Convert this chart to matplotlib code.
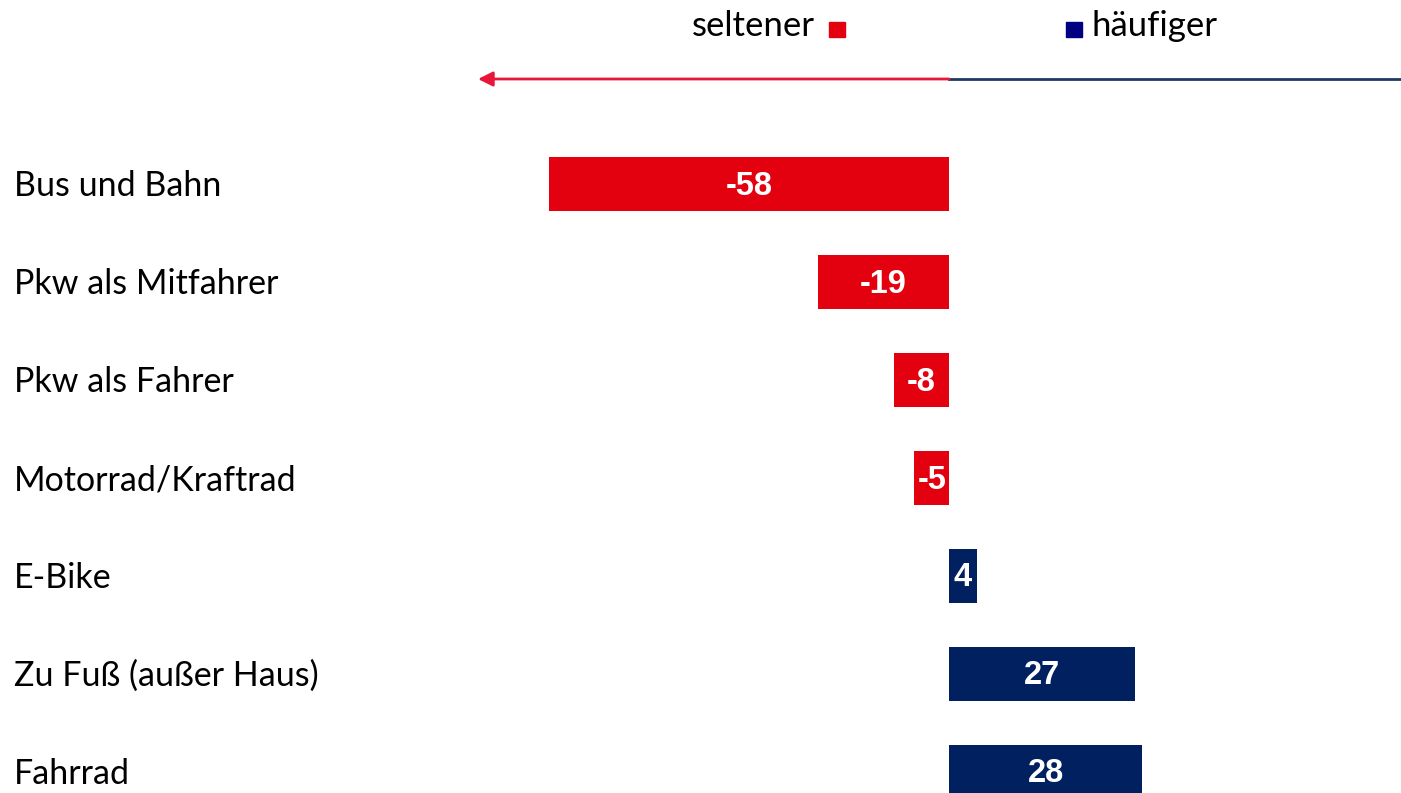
import matplotlib.pyplot as plt

categories = ["Bus und Bahn", "Pkw als Mitfahrer", "Pkw als Fahrer", "Motorrad/Kraftrad",
              "E-Bike", "Zu Fuß (außer Haus)", "Fahrrad"]
values = [-58, -19, -8, -5, 4, 27, 28]
legend_left = "seltener"
legend_right = "häufiger"

red = "#E3000F"
navy = "#002060"

W, H = 1401, 793
fig = plt.figure(figsize=(W / 100, H / 100), dpi=100)

# pixel layout: zero line at x=949, 6.9 px per unit, rows every 98 px starting at y=184
x0, sx = 949, 6.9
y0, sy = 184, 98
ax = fig.add_axes([0, 0, 1, 1])
ax.set_xlim(-x0 / sx, (W - x0) / sx)
ax.set_ylim((H - y0) / sy, -y0 / sy)
ax.axis("off")

pos = list(range(len(categories)))
colors = [red if v < 0 else navy for v in values]
ax.barh(pos, values, height=0.56, color=colors)

for p, v in zip(pos, values):
    ax.text(v / 2, p + 2 / sy, str(v), ha="center", va="center", color="white",
            fontsize=23.5, fontweight="bold", family="Liberation Sans")

for p, c in zip(pos, categories):
    ax.text(14 / W, 1 - (y0 + 2 + p * sy) / H, c, transform=ax.transAxes, ha="left",
            va="center", fontsize=24.5, family="Lato")

# direction arrow
fy = 1 - 79 / H
ax.annotate("", xy=(478 / W, fy), xytext=(x0 / W, fy), xycoords="axes fraction",
            arrowprops=dict(arrowstyle="-|>", color="#E8173A", lw=2, mutation_scale=22,
                            shrinkA=0, shrinkB=0))
ax.plot([x0 / W, 1], [fy, fy], color="#1F3864", lw=2, transform=ax.transAxes)

# legend
ly = 1 - 26 / H
ax.text(815 / W, ly, legend_left, transform=ax.transAxes, ha="right", va="center",
        fontsize=25, family="Lato")
ax.text(1092 / W, ly, legend_right, transform=ax.transAxes, ha="left", va="center",
        fontsize=25, family="Lato")
ax.add_patch(plt.Rectangle((829 / W, 1 - 37 / H), 16 / W, 15 / H, color=red,
                           transform=ax.transAxes))
ax.add_patch(plt.Rectangle((1066 / W, 1 - 37 / H), 16 / W, 15 / H, color="#000080",
                           transform=ax.transAxes))

fig.savefig("out.png", dpi=100)
